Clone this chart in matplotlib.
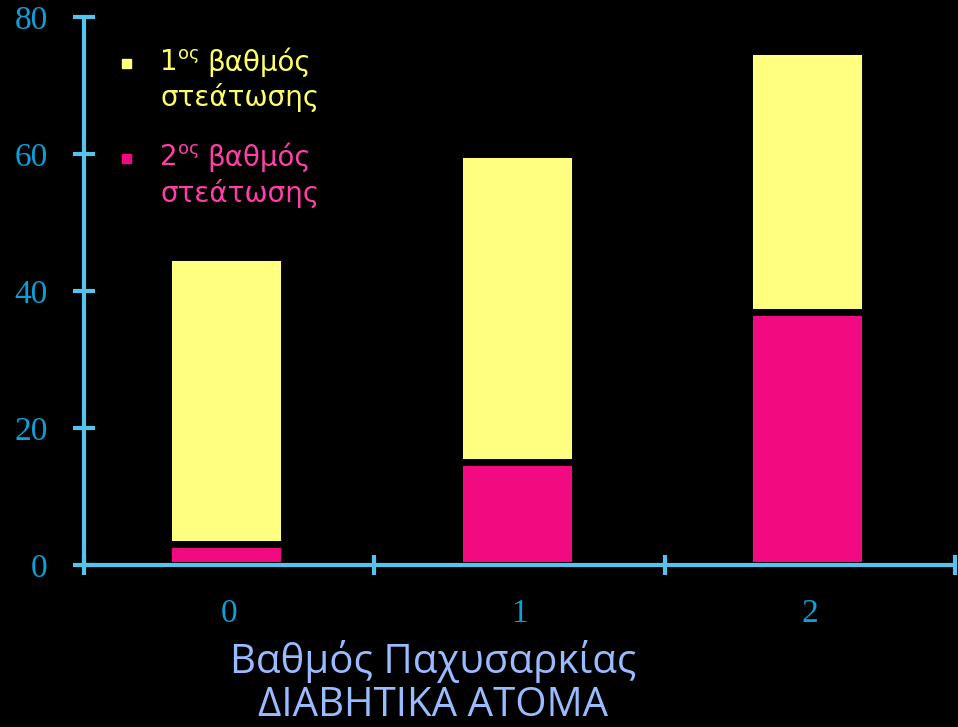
import matplotlib.pyplot as plt
import numpy as np

# stacked bars: grade 2 steatosis at the bottom, grade 1 on top
categories = ['0', '1', '2']
grade2 = [3, 15, 37]
grade1 = [42, 45, 38]
yticks = [0, 20, 40, 60, 80]

axis_col = '#55c3ee'
tick_col = '#0d9fd8'
yel = '#ffff80'
pink = '#f20a80'

fig = plt.figure(figsize=(9.58, 7.27), dpi=100, facecolor='black')
ax = fig.add_axes([84/958, 1-565/727, (955-84)/958, (565-17)/727])
ax.set_facecolor('black')

x = np.arange(len(categories)) - 0.01
ax.bar(x, grade2, width=0.4, color=pink, edgecolor='black', linewidth=5, zorder=2)
ax.bar(x, grade1, bottom=grade2, width=0.4, color=yel, edgecolor='black', linewidth=5, zorder=2)

ax.set_xlim(-0.5, 2.5)
ax.set_ylim(0, 80)

for s in ['top', 'right']:
    ax.spines[s].set_visible(False)
for s in ['left', 'bottom']:
    ax.spines[s].set_color(axis_col)
    ax.spines[s].set_linewidth(3)
    ax.spines[s].set_zorder(3)

ax.set_yticks(yticks)
ax.set_yticklabels([str(v) for v in yticks])
ax.tick_params(axis='y', direction='inout', length=16.5, width=3, color=axis_col,
               labelcolor=tick_col, labelsize=24, pad=18)

ax.set_xticks(np.arange(len(categories)))
ax.set_xticklabels(categories)
ax.set_xticks([-0.5, 0.5, 1.5, 2.5], minor=True)
ax.tick_params(axis='x', which='major', length=0, labelcolor=tick_col, labelsize=24, pad=24)
ax.tick_params(axis='x', which='minor', direction='inout', length=15, width=3, color=axis_col)
for lab in ax.get_xticklabels() + ax.get_yticklabels():
    lab.set_family('Liberation Serif')

# legend drawn by hand with raised ordinal suffix
sans = 'DejaVu Sans'
entries = [('1', yel, '#ffff66', 62), ('2', pink, '#ff3fa8', 157)]
for num, box, txt, ypx in entries:
    yf = 1 - ypx/727
    fig.patches.append(plt.Rectangle((122/958, yf - 6/727), 9/958, 9/727,
                                     transform=fig.transFigure, color=box))
    fig.text(160/958, yf, num, color=txt, fontsize=20, family=sans, va='center')
    fig.text(178/958, yf + 8/727, 'ος', color=txt, fontsize=13, family=sans, va='center')
    fig.text(207/958, yf, 'βαθμός', color=txt, fontsize=20, family=sans, va='center')
    fig.text(160/958, yf - 36/727, 'στεάτωσης', color=txt, fontsize=20, family=sans, va='center')

fig.text(433/958, 1 - 683/727, 'Βαθμός Παχυσαρκίας\nΔΙΑΒΗΤΙΚΑ ΑΤΟΜΑ', color='#99bbff',
         fontsize=29, family='Open Sans', ha='center', va='center', linespacing=1.1)

plt.savefig('out.png', dpi=100, facecolor='black')
